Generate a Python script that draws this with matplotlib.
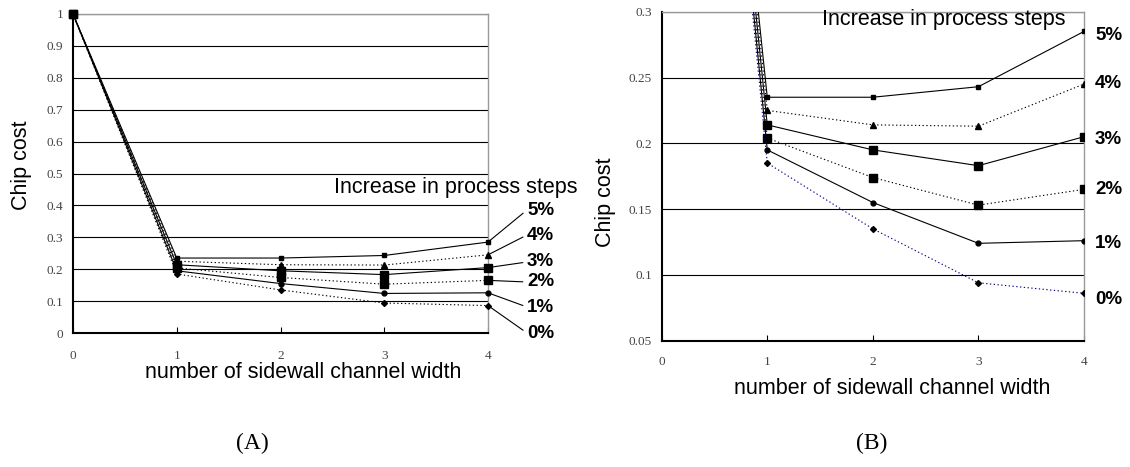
import matplotlib
matplotlib.use('Agg')
import matplotlib.pyplot as plt

# number of sidewall channel width
x_vals = [0, 1, 2, 3, 4]

# chip cost for each increase in process steps
cost_5 = [1.0, 0.235, 0.235, 0.243, 0.285]
cost_4 = [1.0, 0.225, 0.214, 0.213, 0.245]
cost_3 = [1.0, 0.214, 0.195, 0.183, 0.205]
cost_2 = [1.0, 0.204, 0.174, 0.153, 0.165]
cost_1 = [1.0, 0.195, 0.155, 0.124, 0.126]
cost_0 = [1.0, 0.185, 0.135, 0.094, 0.086]

series = [cost_5, cost_4, cost_3, cost_2, cost_1, cost_0]
pct_labels = ['5%', '4%', '3%', '2%', '1%', '0%']

yticks_a = [0, 0.1, 0.2, 0.3, 0.4, 0.5, 0.6, 0.7, 0.8, 0.9, 1]
yticks_b = [0.05, 0.1, 0.15, 0.2, 0.25, 0.3]
xticks = [0, 1, 2, 3, 4]

dot = (0, (1.2, 2.2))
styles = [
    dict(ls='-', marker='s', ms=3.5),
    dict(ls=dot, marker='^', ms=4),
    dict(ls='-', marker='s', ms=6),
    dict(ls=dot, marker='s', ms=6),
    dict(ls='-', marker='o', ms=3.5),
    dict(ls=dot, marker='D', ms=3),
]

W, H = 1130, 467
fig = plt.figure(figsize=(W / 100, H / 100), dpi=100)


def px(x, y):
    return x / W, 1 - y / H


def style_axes(ax, yticks, xpad):
    ax.set_xlim(0, 4)
    ax.set_xticks(xticks)
    ax.set_yticks(yticks)
    ax.set_xticklabels([f'{v:g}' for v in xticks])
    ax.set_yticklabels([f'{v:g}' for v in yticks])
    for t in ax.get_xticklabels() + ax.get_yticklabels():
        t.set_fontfamily('Liberation Serif')
        t.set_fontsize(9.5)
        t.set_color('#444444')
    ax.tick_params(axis='x', direction='in', length=4, width=0.8, pad=xpad)
    ax.tick_params(axis='y', direction='out', length=0, pad=7)
    ax.grid(axis='y', color='black', lw=0.8)
    ax.set_axisbelow(True)
    for s in ['left', 'bottom']:
        ax.spines[s].set_linewidth(1.5)
        ax.spines[s].set_color('black')
    for s in ['top', 'right']:
        ax.spines[s].set_linewidth(1.0)
        ax.spines[s].set_color('#999999')


# panel A
axA = fig.add_axes([73 / W, 1 - 333 / H, 415 / W, 319 / H])
for vals, st in zip(series, styles):
    axA.plot(x_vals, vals, color='black', lw=0.8, mfc='black', mec='black',
             clip_on=False, zorder=3, **st)
axA.set_ylim(0, 1)
style_axes(axA, yticks_a, 12)

# leader lines + labels (A)
label_y_a = [210, 235, 262, 282, 307, 333]
for vals, lab, ly in zip(series, pct_labels, label_y_a):
    axA.annotate(lab, xy=(4, vals[-1]), xycoords='data',
                 xytext=px(527, ly), textcoords='figure fraction',
                 ha='left', va='center', fontsize=13.5, fontweight='bold',
                 family='Liberation Sans', annotation_clip=False,
                 arrowprops=dict(arrowstyle='-', lw=0.8, color='black',
                                 shrinkA=1, shrinkB=2, relpos=(0, 0.5)))

# panel B
axB = fig.add_axes([661.7 / W, 1 - 340.7 / H, 422.3 / W, 329 / H])
for i, (vals, st) in enumerate(zip(series, styles)):
    c = '#000080' if i == 5 else 'black'
    axB.plot(x_vals, vals, color=c, lw=0.8, mfc='black', mec='black',
             zorder=3, **st)
axB.set_ylim(0.05, 0.3)
style_axes(axB, yticks_b, 11)

label_y_b = [35, 83, 140, 190, 243, 300]
for lab, ly in zip(pct_labels, label_y_b):
    fig.text(*px(1095, ly), lab, ha='left', va='center', fontsize=13.5,
             fontweight='bold', family='Liberation Sans')

sans = dict(family='Liberation Sans', fontsize=15.5)
fig.text(*px(578, 188), 'Increase in process steps', ha='right', va='center', **sans)
fig.text(*px(1065, 19), 'Increase in process steps', ha='right', va='center', **sans)

fig.text(*px(22, 165), 'Chip cost', rotation=90, ha='center', va='center', **sans)
fig.text(*px(605, 202), 'Chip cost', rotation=90, ha='center', va='center', **sans)

fig.text(*px(303, 373), 'number of sidewall channel width', ha='center', va='center', **sans)
fig.text(*px(892, 388), 'number of sidewall channel width', ha='center', va='center', **sans)

fig.text(*px(252, 443), '(A)', ha='center', va='center', family='Liberation Serif', fontsize=17)
fig.text(*px(872, 443), '(B)', ha='center', va='center', family='Liberation Serif', fontsize=17)

fig.savefig('out.png', dpi=100)
